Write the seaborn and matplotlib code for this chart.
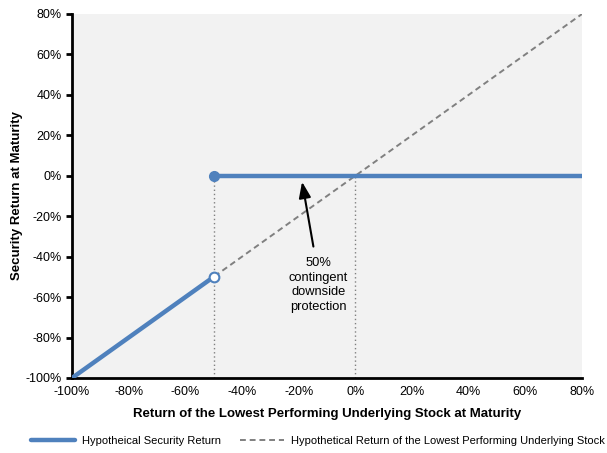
import matplotlib
matplotlib.use("Agg")
import matplotlib.pyplot as plt
import seaborn as sns
import pandas as pd
from matplotlib.ticker import FuncFormatter

sns.set_theme(style="white")
plt.rcParams['font.family'] = ['Liberation Sans', 'DejaVu Sans']
plt.rcParams['text.color'] = 'black'
plt.rcParams['axes.labelcolor'] = 'black'

# Data
security_x = [-100, -50]
security_y = [-100, -50]
flat_x = [-50, 80]
flat_y = [0, 0]
stock_x = [-100, 80]
stock_y = [-100, 80]
ticks_x = [-100, -80, -60, -40, -20, 0, 20, 40, 60, 80]
ticks_y = [-100, -80, -60, -40, -20, 0, 20, 40, 60, 80]
guide_x = [-50, 0]

blue = "#4f81bd"
fig = plt.figure(figsize=(6.07, 4.53), dpi=100)
ax = fig.add_axes([72/607, 1-378/453, 510/607, 364/453])
ax.set_facecolor("#f2f2f2")

df_stock = pd.DataFrame({"x": stock_x, "y": stock_y})
sns.lineplot(data=df_stock, x="x", y="y", ax=ax, color="#808080", lw=1.4,
             linestyle=(0, (3, 2)), label="Hypothetical Return of the Lowest Performing Underlying Stock", zorder=2)

df_sec = pd.DataFrame({"x": security_x, "y": security_y})
sns.lineplot(data=df_sec, x="x", y="y", ax=ax, color=blue, lw=3.2,
             label="Hypotheical Security Return", zorder=3)
df_flat = pd.DataFrame({"x": flat_x, "y": flat_y})
sns.lineplot(data=df_flat, x="x", y="y", ax=ax, color=blue, lw=3.2, zorder=3)

for gx in guide_x:
    ax.plot([gx, gx], [-100, 0], color="#808080", lw=1, linestyle=(0, (1, 2)), zorder=1)

ax.plot([flat_x[0]], [flat_y[0]], marker="o", ms=7, color=blue, zorder=5)
ax.plot([security_x[-1]], [security_y[-1]], marker="o", ms=7, mfc="white", mec=blue, mew=1.5, zorder=5)

ax.annotate("", xy=(-18.8, -3), xytext=(-14.8, -35),
            arrowprops=dict(arrowstyle="-|>,head_length=0.8,head_width=0.3", color="black", lw=1.5,
                            shrinkA=0, shrinkB=0))
ax.text(-13, -54, "50%\ncontingent\ndownside\nprotection", ha="center", va="center",
        fontsize=9.3, linespacing=1.27, color="black")

ax.set_xlim(-100, 80)
ax.set_ylim(-100, 80)
ax.set_xticks(ticks_x)
ax.set_yticks(ticks_y)
fmt = FuncFormatter(lambda v, p: f"{int(v)}%")
ax.xaxis.set_major_formatter(fmt)
ax.yaxis.set_major_formatter(fmt)
ax.tick_params(axis="both", labelsize=9, colors="black")
ax.tick_params(axis="y", direction="out", length=4, width=2, left=True)
ax.tick_params(axis="x", length=0, pad=6)
for s in ["top", "right"]:
    ax.spines[s].set_visible(False)
for s in ["left", "bottom"]:
    ax.spines[s].set_color("black")
    ax.spines[s].set_linewidth(2)
ax.set_xlabel("Return of the Lowest Performing Underlying Stock at Maturity", fontsize=9.5, fontweight="bold", labelpad=7, color="black")
ax.set_ylabel("Security Return at Maturity", fontsize=9.5, fontweight="bold", labelpad=2, color="black")

h, l = ax.get_legend_handles_labels()
if ax.get_legend() is not None:
    ax.get_legend().remove()
order = [1, 0]
leg = fig.legend([h[i] for i in order], [l[i] for i in order], loc="center",
                 bbox_to_anchor=(317.5/607, 1-441/453), ncol=2, frameon=False, fontsize=8,
                 handlelength=4, columnspacing=1.7, handletextpad=0.6)
for t in leg.get_texts():
    t.set_color("black")

fig.savefig("out.png", dpi=100)
